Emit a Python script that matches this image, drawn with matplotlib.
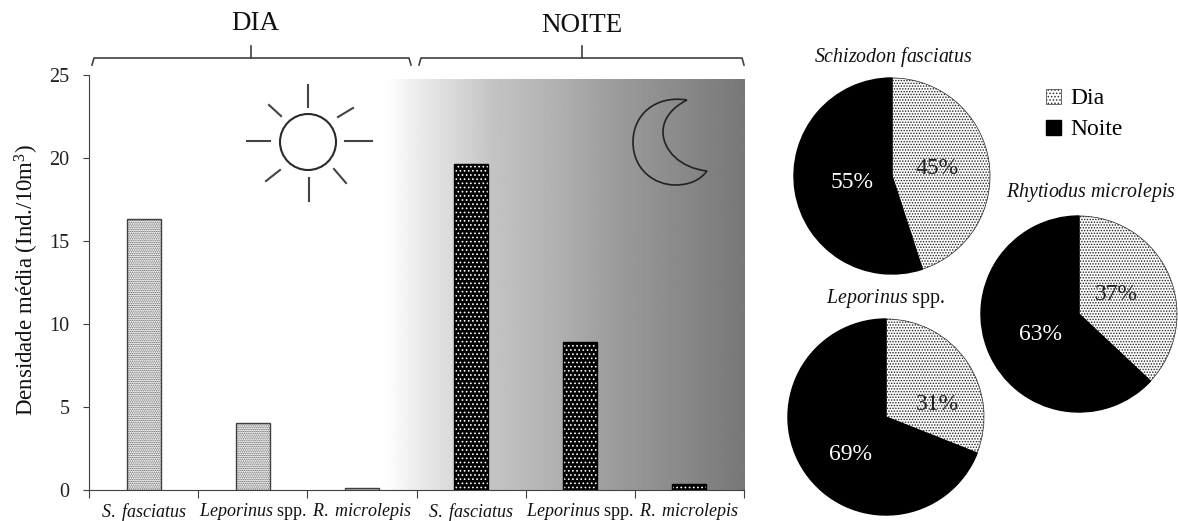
import numpy as np
import matplotlib
matplotlib.use("Agg")
import matplotlib.pyplot as plt
from matplotlib.path import Path
from matplotlib.patches import Circle, PathPatch, Patch

plt.rcParams['font.family'] = ['Liberation Serif', 'DejaVu Serif']
plt.rcParams['mathtext.fontset'] = 'custom'
plt.rcParams['mathtext.rm'] = 'Liberation Serif'
plt.rcParams['mathtext.it'] = 'Liberation Serif:italic'
plt.rcParams['hatch.linewidth'] = 0.7

W, H = 1178, 521

# dados
especies = [r'$\mathit{S.\ fasciatus}$', r'$\mathit{Leporinus}$ spp.', r'$\mathit{R.\ microlepis}$']
rotulos = especies + especies
dia = [16.3, 4.05, 0.15]
noite = [19.65, 8.9, 0.35]

pie_titulos = [r'$\mathit{Schizodon\ fasciatus}$', r'$\mathit{Leporinus}$ spp.', r'$\mathit{Rhytiodus\ microlepis}$']
pie_dia = [45, 31, 37]
pie_noite = [55, 69, 63]
# centro dos pizzas (px), titulo (px), rotulos dia e noite (px)
pie_centros = [(892, 176), (886, 417), (1079, 314)]
pie_tit_pos = [(893, 57), (886, 299), (1091, 193)]
pie_lab_dia = [(937, 168), (937, 404), (1116, 295)]
pie_lab_noite = [(852, 182), (851, 455), (1041, 334)]
raio = 99

COR_EIXO = '#404040'


def px_axes(x0, y0, x1, y1):
    # eixos a partir de pixels da imagem (y para baixo)
    return fig.add_axes([x0 / W, 1 - y1 / H, (x1 - x0) / W, (y1 - y0) / H])


fig = plt.figure(figsize=(W / 100, H / 100), dpi=100)

# barras
ax = px_axes(89, 75, 744, 490)
x_dia = np.arange(3) + 0.5
x_noite = np.arange(3) + 3.5

# fundo em degrade, do branco ao cinza
grad_x = np.linspace(385, 744, 360)
grad = np.interp(grad_x, [385, 420, 454, 491, 558, 616, 744],
                 [1.0, 0.92, 0.85, 0.77, 0.69, 0.61, 0.47]).reshape(1, -1)
ax.imshow(grad, extent=(2.71, 6, 0, 24.75), aspect='auto', cmap='gray', vmin=0, vmax=1, zorder=0)
ax.set_xlim(0, 6)
ax.set_ylim(0, 25)

ax.bar(x_dia, dia, width=0.31, facecolor='white', edgecolor='#555555', hatch='.........', linewidth=0, zorder=2)
ax.bar(x_dia, dia, width=0.31, fill=False, edgecolor='#404040', linewidth=1, zorder=3)
ax.bar(x_noite, noite, width=0.31, facecolor='black', edgecolor='white', hatch='....', linewidth=0, zorder=2)
ax.bar(x_noite, noite, width=0.31, fill=False, edgecolor='black', linewidth=1, zorder=3)

ax.spines['top'].set_visible(False)
ax.spines['right'].set_visible(False)
ax.spines['left'].set_color(COR_EIXO)
ax.spines['bottom'].set_color(COR_EIXO)
ax.set_xticks(np.arange(7))
ax.set_xticklabels([])
ax.set_xticks(np.arange(6) + 0.5, rotulos, minor=True)
ax.tick_params(axis='x', which='major', length=6, color=COR_EIXO, direction='out')
ax.tick_params(axis='x', which='minor', length=0, labelsize=13, pad=8, labelcolor='#111111')
ax.set_yticks([0, 5, 10, 15, 20, 25])
ax.tick_params(axis='y', length=4, color=COR_EIXO, labelsize=14.5, pad=10, labelcolor='#222222')
ax.set_ylabel('Densidade média (Ind./10m$^3$)', fontsize=16.5, labelpad=6, color='#111111', y=0.505)

# pizzas
for i in range(3):
    cx, cy = pie_centros[i]
    a = px_axes(cx - raio, cy - raio, cx + raio, cy + raio)
    w, _ = a.pie([pie_dia[i], pie_noite[i]], startangle=90, counterclock=False, radius=1,
                 colors=['white', 'black'])
    w[0].set_hatch('......')
    w[0].set_edgecolor('#222222')
    w[0].set_linewidth(0.5)
    w[1].set_edgecolor('black')
    a.set_xlim(-1.01, 1.01)
    a.set_ylim(-1.01, 1.01)

# camada em pixels: chaves, sol, lua, textos
ov = fig.add_axes([0, 0, 1, 1], facecolor='none')
ov.set_xlim(0, W)
ov.set_ylim(H, 0)
ov.axis('off')

for x0, x1, xm in [(92, 411, 251), (419, 744, 582)]:
    ov.plot([x0, x0 + 2, x1 - 2, x1], [65, 58, 58, 65], color=COR_EIXO, lw=1.2)
    ov.plot([xm, xm], [46, 58], color=COR_EIXO, lw=1.2)
ov.text(255, 24, 'DIA', fontsize=19.5, ha='center', va='center', color='#111111')
ov.text(582, 26, 'NOITE', fontsize=19.5, ha='center', va='center', color='#111111')

# sol
ov.add_patch(Circle((308, 142), 28, fill=False, edgecolor='#2a2a2a', lw=1.5))
raios_sol = [((308, 85), (308, 107)), ((345, 141), (372, 141)), ((247, 141), (270, 141)),
             ((309, 178), (309, 201)), ((338, 117), (353, 108)), ((269, 105), (281, 116)),
             ((334, 169), (346, 183)), ((266, 181), (280, 170))]
for p, q in raios_sol:
    ov.plot([p[0], q[0]], [p[1], q[1]], color='#444444', lw=1.5)

# lua
verts = [(687, 100), (655, 95), (633, 115), (633, 142),
         (633, 170), (655, 185), (675, 185),
         (690, 185), (700, 180), (707, 171),
         (680, 168), (663, 150), (663, 132),
         (663, 118), (673, 107), (687, 100)]
codes = [Path.MOVETO] + [Path.CURVE4] * 15
ov.add_patch(PathPatch(Path(verts, codes), fill=False, edgecolor='#222222', lw=1.2))

for i in range(3):
    ov.text(*pie_tit_pos[i], pie_titulos[i], fontsize=14.3, ha='center', va='center', color='#111111')
    ov.text(*pie_lab_dia[i], f'{pie_dia[i]}%', fontsize=17, ha='center', va='center', color='#222222')
    ov.text(*pie_lab_noite[i], f'{pie_noite[i]}%', fontsize=17, ha='center', va='center', color='white')

# legenda
maos = [Patch(facecolor='white', edgecolor='#333333', hatch='.....', linewidth=0.5, label='Dia'),
        Patch(facecolor='black', edgecolor='black', label='Noite')]
ov.legend(handles=maos, loc='upper left', bbox_to_anchor=(1037 / W, 1 - 79 / H), frameon=False,
          fontsize=17, handlelength=0.6, handleheight=0.6, handletextpad=0.42, labelspacing=0.42,
          borderpad=0, borderaxespad=0.4)

fig.savefig('out.png', dpi=100)
